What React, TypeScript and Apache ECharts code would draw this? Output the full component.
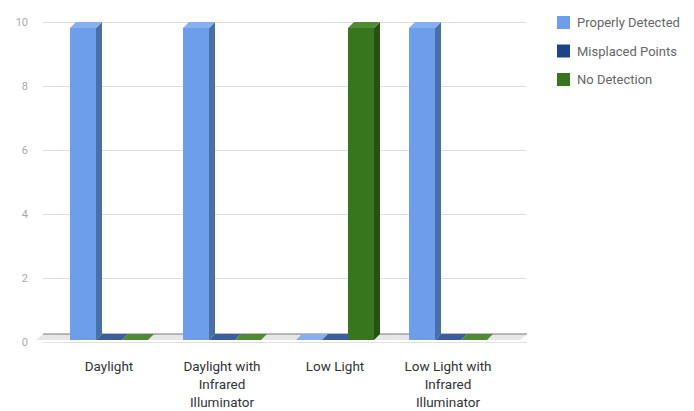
import React, { useEffect, useRef } from "react";
import * as echarts from "echarts";

const categories = [
  "Daylight",
  "Daylight with\nInfrared\nIlluminator",
  "Low Light",
  "Low Light with\nInfrared\nIlluminator",
];
const seriesNames = ["Properly Detected", "Misplaced Points", "No Detection"];
const properlyDetected = [10, 10, 0, 10];
const misplacedPoints = [0, 0, 0, 0];
const noDetection = [0, 0, 10, 0];
const yTicks = { min: 0, max: 10, interval: 2 };

const FONT = "Roboto, 'Noto Sans', sans-serif";
const DX = 6;
const DY = 6;
const BAR_RATIO = 0.23;
const palette = [
  { front: "#6d9eeb", side: "#4a6fa8", top: "#86aff0" },
  { front: "#1c4587", side: "#132f5c", top: "#3a5f9c" },
  { front: "#38761d", side: "#255213", top: "#4e8c34" },
];

function makeBarRender(k: number) {
  return (params: any, api: any) => {
    const ci = api.value(0);
    const v = api.value(1);
    const base = api.coord([ci, 0]);
    const top = api.coord([ci, v]);
    const band = api.size([1, 0])[0];
    const bw = band * BAR_RATIO;
    const x0 = base[0] - 1.5 * bw + k * bw;
    const yb = base[1];
    const yt = top[1];
    const c = palette[k];
    const children: any[] = [];
    if (yb - yt > 0.5) {
      children.push({
        type: "polygon",
        shape: {
          points: [
            [x0 + bw, yt],
            [x0 + bw + DX, yt - DY],
            [x0 + bw + DX, yb - DY],
            [x0 + bw, yb],
          ],
        },
        style: { fill: c.side },
      });
      children.push({
        type: "rect",
        shape: { x: x0, y: yt, width: bw, height: yb - yt },
        style: { fill: c.front },
      });
    }
    children.push({
      type: "polygon",
      shape: {
        points: [
          [x0, yt],
          [x0 + DX, yt - DY],
          [x0 + bw + DX, yt - DY],
          [x0 + bw, yt],
        ],
      },
      style: { fill: c.top },
    });
    return { type: "group", children };
  };
}

export default function App() {
  const ref = useRef<HTMLDivElement>(null);
  useEffect(() => {
    const chart = echarts.init(ref.current!, undefined, { renderer: "svg" });
    const seriesData = [properlyDetected, misplacedPoints, noDetection];
    chart.setOption({
      animation: false,
      backgroundColor: "#ffffff",
      textStyle: { fontFamily: FONT },
      legend: {
        orient: "vertical",
        left: 552,
        top: 11,
        itemWidth: 13,
        itemHeight: 13,
        itemGap: 15.5,
        icon: "rect",
        textStyle: { color: "#666", fontSize: 13, fontFamily: FONT, padding: [0, 0, 0, 2] },
        data: seriesNames,
      },
      grid: [
        { left: 43, right: 167, top: 22, bottom: 69 },
        { left: 52.5, right: 189.5, top: 28, bottom: 63 },
      ],
      xAxis: [
        {
          gridIndex: 0,
          type: "category",
          data: categories,
          show: false,
        },
        {
          gridIndex: 1,
          type: "category",
          data: categories,
          axisLine: { show: false },
          axisTick: { show: false },
          axisLabel: {
            color: "#333",
            fontSize: 13.5,
            lineHeight: 18,
            margin: 17,
            fontFamily: FONT,
            interval: 0,
          },
        },
      ],
      yAxis: [
        {
          gridIndex: 0,
          type: "value",
          min: yTicks.min,
          max: yTicks.max,
          interval: yTicks.interval,
          axisLine: { show: false },
          axisTick: { show: false },
          axisLabel: { color: "#aaa", fontSize: 11, margin: 15, fontFamily: FONT },
          splitLine: { lineStyle: { color: "#e0e0e0", width: 1 } },
        },
        {
          gridIndex: 1,
          type: "value",
          min: yTicks.min,
          max: yTicks.max,
          interval: yTicks.interval,
          show: false,
          splitLine: { show: false },
        },
      ],
      series: [
        {
          type: "custom",
          name: "floor",
          xAxisIndex: 1,
          yAxisIndex: 1,
          silent: true,
          z: 1,
          data: [[0, 0]],
          renderItem: (params: any) => {
            const cs = params.coordSys;
            const yf = cs.y + cs.height;
            const xl = cs.x - 16.5;
            const xr = cs.x + cs.width + 15.5;
            return {
              type: "group",
              children: [
                {
                  type: "polygon",
                  shape: {
                    points: [
                      [xl, yf],
                      [xl + DX + 1, yf - DY],
                      [xr + DX + 1, yf - DY],
                      [xr, yf],
                    ],
                  },
                  style: { fill: "#e6e6e6" },
                },
                {
                  type: "line",
                  shape: { x1: xl + DX + 1, y1: yf - DY, x2: xr + DX + 1, y2: yf - DY },
                  style: { stroke: "#7a7a7a", lineWidth: 1 },
                },
              ],
            };
          },
        },
        ...seriesNames.map((name, k) => ({
          type: "custom",
          name,
          xAxisIndex: 1,
          yAxisIndex: 1,
          z: 2,
          itemStyle: { color: palette[k].front },
          data: seriesData[k].map((v, i) => [i, v]),
          renderItem: makeBarRender(k),
        })),
      ],
    });
    return () => chart.dispose();
  }, []);
  return (
    <div
      ref={ref}
      style={{ position: "fixed", left: 0, top: 0, width: 694, height: 411 }}
    />
  );
}
